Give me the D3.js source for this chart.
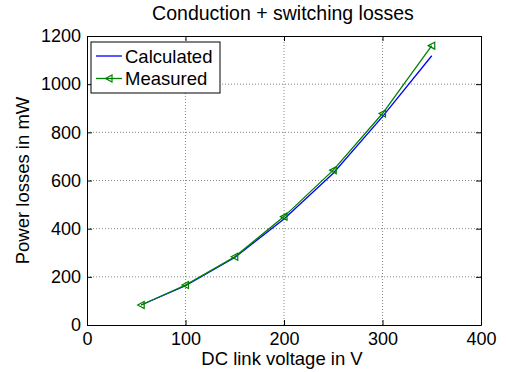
<!DOCTYPE html>
<html>
<head>
<meta charset="utf-8">
<script src="https://cdn.jsdelivr.net/npm/d3@7"></script>
<style>
  body { margin: 0; background: #fff; }
  text { font-family: "Liberation Sans", Arial, sans-serif; }
</style>
</head>
<body>
<svg id="chart" width="506" height="372"></svg>
<script>
const voltage = [55, 100, 150, 200, 250, 300, 350];
const calculated = [83, 163, 280, 440, 630, 865, 1118];
const measured = [83, 166, 283, 450, 643, 878, 1160];
const xTicks = [0, 100, 200, 300, 400];
const yTicks = [0, 200, 400, 600, 800, 1000, 1200];

const margin = { left: 87, right: 25, top: 36, bottom: 47 };
const width = 506, height = 372;

const svg = d3.select("#chart");

const x = d3.scaleLinear().domain([0, 400]).range([margin.left, width - margin.right]);
const y = d3.scaleLinear().domain([0, 1200]).range([height - margin.bottom, margin.top]);

// grid
svg.append("g")
  .selectAll("line.vg")
  .data(xTicks.slice(1, -1))
  .enter().append("line")
  .attr("x1", d => x(d)).attr("x2", d => x(d))
  .attr("y1", y(0)).attr("y2", y(1200))
  .attr("stroke", "#888").attr("stroke-dasharray", "1,2").attr("stroke-width", 1);

svg.append("g")
  .selectAll("line.hg")
  .data(yTicks.slice(1, -1))
  .enter().append("line")
  .attr("x1", x(0)).attr("x2", x(400))
  .attr("y1", d => y(d)).attr("y2", d => y(d))
  .attr("stroke", "#888").attr("stroke-dasharray", "1,2").attr("stroke-width", 1);

// axes (ticks inward)
const fmt = d3.format("d");
svg.append("g")
  .attr("transform", "translate(0," + y(0) + ")")
  .call(d3.axisBottom(x).tickValues(xTicks).tickFormat(fmt).tickSizeInner(-5).tickSizeOuter(0).tickPadding(7));
svg.append("g")
  .attr("transform", "translate(" + x(0) + ",0)")
  .call(d3.axisLeft(y).tickValues(yTicks).tickFormat(fmt).tickSizeInner(-5).tickSizeOuter(0).tickPadding(6));
svg.append("g")
  .attr("transform", "translate(0," + y(1200) + ")")
  .call(d3.axisTop(x).tickValues(xTicks).tickSizeInner(-5).tickSizeOuter(0).tickFormat(""));
svg.append("g")
  .attr("transform", "translate(" + x(400) + ",0)")
  .call(d3.axisRight(y).tickValues(yTicks).tickSizeInner(-5).tickSizeOuter(0).tickFormat(""));

svg.selectAll(".domain").attr("stroke", "#000");
svg.selectAll(".tick line").attr("stroke", "#000");
svg.selectAll(".tick text").attr("font-size", 18).attr("fill", "#000")
  .style("font-family", "'Liberation Sans', Arial, sans-serif");

// lines
const lineCalc = d3.line().x((d, i) => x(voltage[i])).y(d => y(d));
svg.append("path")
  .datum(calculated)
  .attr("d", lineCalc)
  .attr("fill", "none").attr("stroke", "#0000ff").attr("stroke-width", 1.3);

svg.append("path")
  .datum(measured)
  .attr("d", lineCalc)
  .attr("fill", "none").attr("stroke", "#008000").attr("stroke-width", 1.3);

const tri = "M-3.5,0 L3,-3.5 L3,3.5 Z";
svg.append("g")
  .selectAll("path")
  .data(measured)
  .enter().append("path")
  .attr("d", tri)
  .attr("transform", (d, i) => "translate(" + x(voltage[i]) + "," + y(d) + ")")
  .attr("fill", "none").attr("stroke", "#008000").attr("stroke-width", 1.2);

// title and labels
svg.append("text")
  .attr("x", 283).attr("y", 20)
  .attr("text-anchor", "middle").attr("font-size", 19.5)
  .text("Conduction + switching losses");

svg.append("text")
  .attr("x", 282).attr("y", 365)
  .attr("text-anchor", "middle").attr("font-size", 18.5)
  .text("DC link voltage in V");

svg.append("text")
  .attr("transform", "translate(29," + (y(0) + y(1200)) / 2 + ") rotate(-90)")
  .attr("text-anchor", "middle").attr("font-size", 18.5)
  .text("Power losses in mW");

// legend
const legend = svg.append("g").attr("transform", "translate(91,42)");
legend.append("rect")
  .attr("width", 129).attr("height", 51)
  .attr("fill", "#fff").attr("stroke", "#000").attr("stroke-width", 1);

const legendItems = [
  { name: "Calculated", color: "#0000ff", marker: false },
  { name: "Measured", color: "#008000", marker: true }
];
legendItems.forEach((item, i) => {
  const ly = 14 + i * 22.5;
  legend.append("line")
    .attr("x1", 5).attr("x2", 31).attr("y1", ly).attr("y2", ly)
    .attr("stroke", item.color).attr("stroke-width", 1.3);
  if (item.marker) {
    legend.append("path")
      .attr("d", tri)
      .attr("transform", "translate(18," + ly + ")")
      .attr("fill", "none").attr("stroke", item.color).attr("stroke-width", 1.2);
  }
  legend.append("text")
    .attr("x", 34).attr("y", ly + 6.5)
    .attr("font-size", 18.5)
    .text(item.name);
});
</script>
</body>
</html>
